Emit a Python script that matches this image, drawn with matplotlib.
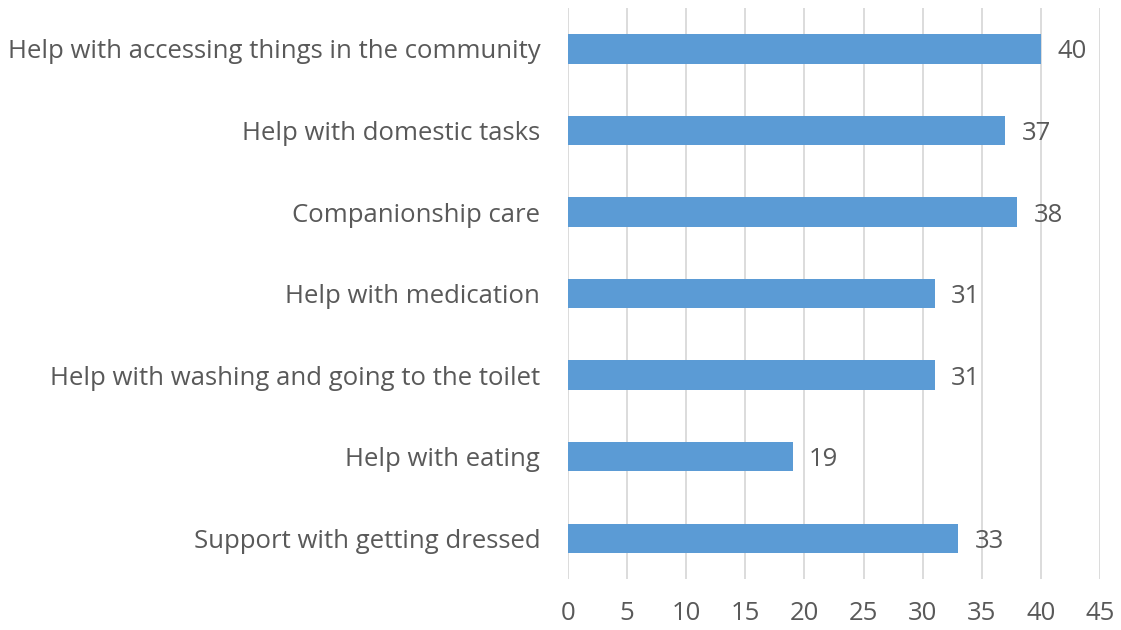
import numpy as np
import matplotlib
matplotlib.use('Agg')
import matplotlib.pyplot as plt

plt.rcParams['font.family'] = ['Open Sans', 'DejaVu Sans']

categories = ['Support with getting dressed',
              'Help with eating',
              'Help with washing and going to the toilet',
              'Help with medication',
              'Companionship care',
              'Help with domestic tasks',
              'Help with accessing things in the community']
counts = [33, 19, 31, 31, 38, 37, 40]

txtcol = '#595959'

fig = plt.figure(figsize=(11.21, 6.3), dpi=100)
ax = fig.add_axes([0.5067, 0.081, 0.4746, 0.906])

ypos = np.arange(len(categories))
ax.barh(ypos, counts, height=0.36, color='#5B9BD5', zorder=3)
for y, v in zip(ypos, counts):
    ax.text(v + 1.4, y, str(v), va='center_baseline', ha='left', fontsize=18.5,
            color=txtcol, zorder=4)

ax.set_xlim(0, 45)
ax.set_ylim(-0.5, len(categories) - 0.5)
ax.set_xticks(np.arange(0, 46, 5))
ax.set_yticks(ypos)
ax.set_yticklabels(categories)
ax.grid(axis='x', color='#D9D9D9', lw=1.3, zorder=0)
ax.tick_params(axis='both', length=0, labelsize=18.5, colors=txtcol)
ax.tick_params(axis='x', pad=16)
ax.tick_params(axis='y', pad=20)
for s in ax.spines.values():
    s.set_visible(False)

plt.savefig('out.png', dpi=100)
